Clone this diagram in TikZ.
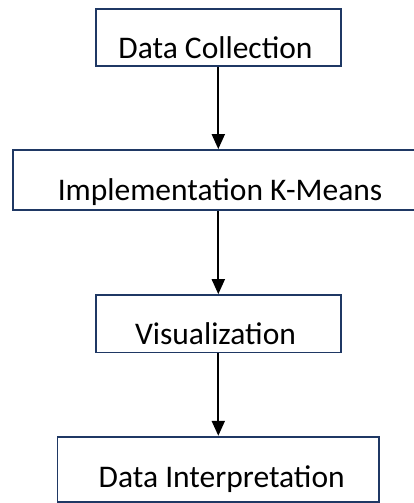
\documentclass[tikz,border=0pt]{standalone}
\usepackage{fontspec}
\setmainfont{Carlito}
\usetikzlibrary{arrows.meta}
\definecolor{boxline}{HTML}{1F3864}
\begin{document}
\begin{tikzpicture}[x=1pt,y=1pt,
  stepbox/.style={draw=boxline,line width=1.8pt,fill=white,inner sep=0pt},
  steptext/.style={anchor=base,inner sep=0pt,font=\fontsize{31.5}{37}\selectfont},
  flow/.style={line width=2pt,-{Triangle[width=13pt,length=15pt]}}]
\useasboundingbox (0,0) rectangle (414,-503);
\begin{scope}
\clip (0,0) rectangle (414,-503);
\node[stepbox,minimum width=245pt,minimum height=57pt] (b1) at (218.3,-37.4) {};
\node[stepbox,minimum width=410pt,minimum height=60pt] (b2) at (218.3,-180) {};
\node[stepbox,minimum width=245pt,minimum height=57.5pt] (b3) at (218.3,-323.8) {};
\node[stepbox,minimum width=321.5pt,minimum height=65pt] (b4) at (218.3,-469.2) {};
\end{scope}
\node[steptext] (t1) at (215.5,-58.3) {Data Collection};
\node[steptext] (t2) at (220,-200) {Implementation K-Means};
\node[steptext] (t3) at (215.5,-344) {Visualization};
\node[steptext] (t4) at (221.7,-487) {Data Interpretation};
\draw[flow] (b1.south) -- (b2.north);
\draw[flow] (b2.south) -- (b3.north);
\draw[flow] (b3.south) -- (b4.north);
\end{tikzpicture}
\end{document}
